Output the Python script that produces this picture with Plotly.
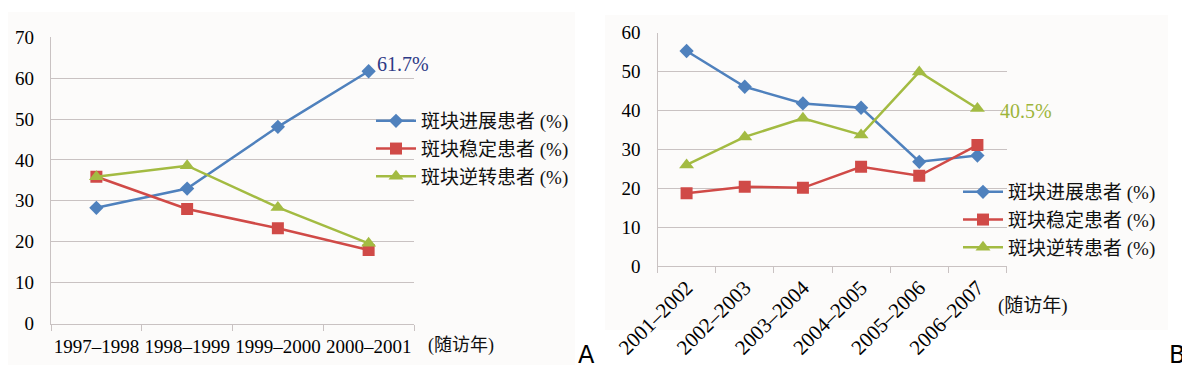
import plotly.graph_objects as go

# ---- data ----
cats_a = ["1997–1998", "1998–1999", "1999–2000", "2000–2001"]
prog_a = [28.3, 33.0, 48.1, 61.7]
stab_a = [35.9, 28.0, 23.3, 18.0]
rev_a = [35.9, 38.6, 28.4, 19.6]

cats_b = ["2001–2002", "2002–2003", "2003–2004", "2004–2005", "2005–2006", "2006–2007"]
prog_b = [55.3, 46.1, 41.8, 40.7, 26.8, 28.4]
stab_b = [18.7, 20.4, 20.1, 25.5, 23.2, 31.1]
rev_b = [26.0, 33.2, 38.0, 33.7, 49.9, 40.5]

names = ["斑块进展患者 (%)", "斑块稳定患者 (%)", "斑块逆转患者 (%)"]
ticks_a = [0, 10, 20, 30, 40, 50, 60, 70]
ticks_b = [0, 10, 20, 30, 40, 50, 60]

# ---- style ----
OFF = 8  # default page body margin
W, H = 1182, 373
BLUE, RED, GREEN = "#4F81BD", "#D04A47", "#A3BB42"
SERIF = "Liberation Serif, Times New Roman, Noto Sans CJK SC, serif"
CJK = "Liberation Serif, Noto Sans CJK SC, sans-serif"
GRID = "#C9C2C2"

def px(x):
    return (x - OFF) / W

def py(y):
    return 1 - (y - OFF) / H

fig = go.Figure()

styles = [(BLUE, "diamond", 11), (RED, "square", 12), (GREEN, "triangle-up", 13)]

for i, (series, (col, sym, sz), nm) in enumerate(zip([prog_a, stab_a, rev_a], styles, names)):
    fig.add_trace(go.Scatter(x=cats_a, y=series, name=nm, mode="lines+markers",
                             line=dict(color=col, width=2.5),
                             marker=dict(symbol=sym, size=sz, color=col),
                             xaxis="x", yaxis="y", legend="legend", legendgroup=f"a{i}"))
for i, (series, (col, sym, sz), nm) in enumerate(zip([prog_b, stab_b, rev_b], styles, names)):
    fig.add_trace(go.Scatter(x=cats_b, y=series, name=nm, mode="lines+markers",
                             line=dict(color=col, width=2.5),
                             marker=dict(symbol=sym, size=sz, color=col),
                             xaxis="x2", yaxis="y2", legend="legend2", legendgroup=f"b{i}"))

axis_common = dict(showline=True, linecolor=GRID, linewidth=1.2, zeroline=False, automargin=False)
tfont = dict(family=SERIF, size=19, color="#000")
tfont_b = dict(family=SERIF, size=21, color="#000")
lfont = dict(family=CJK, size=19, color="#111")

fig.update_layout(
    width=W, height=H,
    margin=dict(l=0, r=0, t=0, b=0),
    paper_bgcolor="white", plot_bgcolor="rgba(0,0,0,0)",
    xaxis=dict(domain=[px(51), px(414)], type="category", range=[-0.5, 3.5],
               tickson="boundaries", ticks="outside", ticklen=6, tickcolor=GRID,
               showgrid=False, tickangle=0, tickfont=tfont, ticklabelstandoff=6,
               anchor="y", **axis_common),
    yaxis=dict(domain=[py(323.5), py(37.3)], range=[0, 70], tickvals=ticks_a,
               showgrid=True, gridcolor=GRID, gridwidth=1.2, ticks="",
               tickfont=tfont, ticklabelstandoff=12,
               anchor="x", **axis_common),
    xaxis2=dict(domain=[px(657.5), px(1006.5)], type="category", range=[-0.5, 5.5],
                tickson="boundaries", ticks="outside", ticklen=6, tickcolor=GRID,
                showgrid=False, tickangle=-45, tickfont=tfont_b,
                anchor="y2", **axis_common),
    yaxis2=dict(domain=[py(266), py(32.7)], range=[0, 60], tickvals=ticks_b,
                showgrid=True, gridcolor=GRID, gridwidth=1.2, ticks="",
                tickfont=tfont, ticklabelstandoff=12,
                anchor="x2", **axis_common),
    legend=dict(x=px(371), y=py(102), xanchor="left", yanchor="top",
                font=lfont, bgcolor="rgba(0,0,0,0)", itemwidth=40, tracegroupgap=0),
    legend2=dict(x=px(958), y=py(173), xanchor="left", yanchor="top",
                 font=lfont, bgcolor="rgba(0,0,0,0)", itemwidth=40, tracegroupgap=0),
    showlegend=True,
)

# faint panel backgrounds
fig.add_shape(type="rect", xref="paper", yref="paper", x0=px(8), x1=px(575), y0=py(365), y1=py(12),
              fillcolor="#FCFBFA", line=dict(width=0), layer="below")
fig.add_shape(type="rect", xref="paper", yref="paper", x0=px(605), x1=px(1168), y0=py(330), y1=py(15),
              fillcolor="#FCFBFA", line=dict(width=0), layer="below")

# data labels
fig.add_annotation(x=cats_a[-1], y=prog_a[-1], xref="x", yref="y", text=f"{prog_a[-1]}%",
                   showarrow=False, xanchor="left", xshift=6, yshift=7,
                   font=dict(family=SERIF, size=20, color="#2E3A86"))
fig.add_annotation(x=cats_b[-1], y=rev_b[-1], xref="x2", yref="y2", text=f"{rev_b[-1]}%",
                   showarrow=False, xanchor="left", xshift=21, yshift=-2,
                   font=dict(family=SERIF, size=20, color="#9DB53A"))

# axis unit labels
fig.add_annotation(x=px(426), y=py(345), xref="paper", yref="paper", text="(随访年)",
                   showarrow=False, xanchor="left", yanchor="middle",
                   font=dict(family=CJK, size=18, color="#111"))
fig.add_annotation(x=px(996), y=py(306), xref="paper", yref="paper", text="(随访年)",
                   showarrow=False, xanchor="left", yanchor="middle",
                   font=dict(family=CJK, size=19, color="#111"))

# panel letters
fig.add_annotation(x=px(586), y=py(355), xref="paper", yref="paper", text="A",
                   showarrow=False, xanchor="center", yanchor="middle",
                   font=dict(family="DejaVu Sans, sans-serif", size=24, color="#000"))
fig.add_annotation(x=px(1177), y=py(355), xref="paper", yref="paper", text="B",
                   showarrow=False, xanchor="center", yanchor="middle",
                   font=dict(family="DejaVu Sans, sans-serif", size=24, color="#000"))

fig.write_html("out.html")
